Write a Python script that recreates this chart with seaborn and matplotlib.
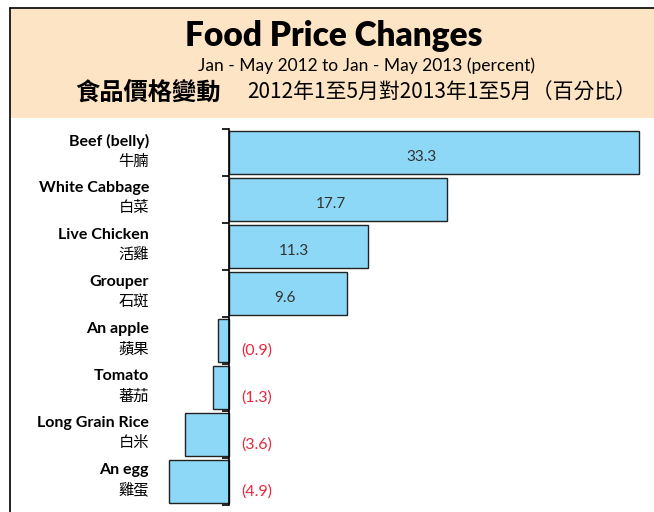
import matplotlib
matplotlib.use('Agg')
import matplotlib.pyplot as plt
import seaborn as sns
import pandas as pd
from matplotlib.patches import Rectangle
from matplotlib.lines import Line2D

# Data
items_en = ['Beef (belly)', 'White Cabbage', 'Live Chicken', 'Grouper',
            'An apple', 'Tomato', 'Long Grain Rice', 'An egg']
items_zh = ['牛腩', '白菜', '活雞', '石斑', '蘋果', '蕃茄', '白米', '雞蛋']
changes = [33.3, 17.7, 11.3, 9.6, -0.9, -1.3, -3.6, -4.9]

df = pd.DataFrame({'item': items_en, 'change': changes})

sns.set_theme(style='white')
latin = ['Lato', 'DejaVu Sans']
cjk = ['Noto Sans CJK TC', 'DejaVu Sans']
plt.rcParams['font.family'] = ['Lato', 'Noto Sans CJK TC', 'DejaVu Sans']

W, H = 654, 512
fig = plt.figure(figsize=(W / 100, H / 100), dpi=100)

# header box
fig.patches.append(Rectangle((11 / W, 1 - 118 / H), 1, 110 / H, transform=fig.transFigure,
                             facecolor='#fde4c4', edgecolor='none', zorder=0))
fig.lines.append(Line2D([10 / W, 10 / W], [0, 1 - 8 / H], transform=fig.transFigure,
                        color='black', lw=1.2))
fig.lines.append(Line2D([10 / W, 1], [1 - 8 / H, 1 - 8 / H], transform=fig.transFigure,
                        color='black', lw=1.2))

fig.text(334 / W, 1 - 36 / H, 'Food Price Changes', ha='center', va='center',
         fontsize=24, fontweight='heavy', family=latin, color='black')
fig.text(366 / W, 1 - 66 / H, 'Jan - May 2012 to Jan - May 2013 (percent)', ha='center',
         va='center', fontsize=12.5, family=latin, color='black')
fig.text(75 / W, 1 - 93 / H, '食品價格變動', ha='left', va='center', fontsize=17.5,
         fontweight='bold', family=cjk, color='black')
fig.text(247 / W, 1 - 93 / H, '2012年1至5月對2013年1至5月（百分比）', ha='left', va='center',
         fontsize=15, family=cjk, color='black')

# chart area
ax = fig.add_axes([160 / W, 7 / H, 490 / W, 376 / H])
sns.barplot(data=df, x='change', y='item', orient='h', color='#8ed8f7',
            edgecolor='#222222', linewidth=1, width=0.915, saturation=1, ax=ax)
ax.set_xlim(-5.6, 34.2)
ax.set_ylim(7.5, -0.5)
for s in ['top', 'right', 'bottom']:
    ax.spines[s].set_visible(False)
ax.spines['left'].set_position(('data', 0))
ax.spines['left'].set_color('black')
ax.spines['left'].set_linewidth(1.2)
ax.set_xticks([])
ax.set_yticks([i - 0.5 for i in range(len(items_en) + 1)])
ax.set_yticklabels([])
ax.tick_params(axis='y', direction='out', length=5, width=1.2, color='black', left=True)
ax.set_xlabel('')
ax.set_ylabel('')

for i, (en, zh, v) in enumerate(zip(items_en, items_zh, changes)):
    ax.text(-6.5, i - 0.24, en, ha='right', va='center', fontsize=11.5,
            fontweight='bold', color='black', clip_on=False)
    ax.text(-6.5, i + 0.18, zh, ha='right', va='center', fontsize=11,
            family=cjk, color='black', clip_on=False)
    if v > 0:
        ax.text(v * 0.47, i + 0.1, f'{v:.1f}', ha='center', va='center',
                fontsize=11, color='#333333')
    else:
        ax.text(1.0, i + 0.22, f'({abs(v):.1f})', ha='left', va='center',
                fontsize=11.5, color='#e8283c')

fig.savefig('out.png', dpi=100)
